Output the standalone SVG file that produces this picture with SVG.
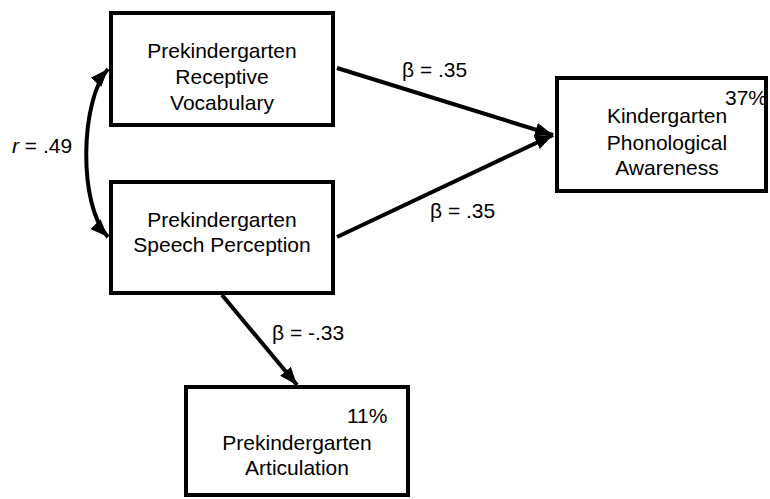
<svg xmlns="http://www.w3.org/2000/svg" width="770" height="499" viewBox="0 0 770 499">
<style>
.box{fill:#fff;stroke:#000;stroke-width:4}
.t{font-family:"Liberation Sans",Arial,sans-serif;font-size:20px;fill:#000}
.w{font-size:21px}
.c{text-anchor:middle}
.ln{fill:none;stroke:#000;stroke-width:4}
</style>
<defs>
<marker id="ah" markerUnits="userSpaceOnUse" markerWidth="20" markerHeight="16" refX="18" refY="8" orient="auto-start-reverse">
<path d="M0,1 L18,8 L0,15 Z" fill="#000"/>
</marker>
</defs>
<rect width="770" height="499" fill="#fff"/>
<g id="connectors">
<path class="ln" d="M337,68 L553,135" marker-end="url(#ah)"/>
<path class="ln" d="M337,237 L553,135" marker-end="url(#ah)"/>
<path class="ln" d="M222,295 L297,385" marker-end="url(#ah)"/>
<path class="ln" d="M108,69 C80,100 78,206 108,237" marker-start="url(#ah)" marker-end="url(#ah)"/>
<text class="t w" x="402" y="77">β = .35</text>
<text class="t w" x="430" y="218">β = .35</text>
<text class="t w" x="272" y="340">β = -.33</text>
<text class="t w" x="12" y="153"><tspan font-style="italic">r</tspan> = .49</text>
</g>
<g id="vocab">
<rect class="box" x="111" y="13" width="222" height="112"/>
<text class="t w c" x="222" y="58">Prekindergarten</text>
<text class="t w c" x="222" y="84">Receptive</text>
<text class="t w c" x="222" y="110">Vocabulary</text>
</g>
<g id="speech">
<rect class="box" x="111" y="182" width="222" height="111"/>
<text class="t w c" x="222" y="227">Prekindergarten</text>
<text class="t w c" x="222" y="252">Speech Perception</text>
</g>
<g id="phono">
<rect class="box" x="557" y="78" width="209" height="113"/>
<text class="t w" x="725" y="105">37%</text>
<text class="t w c" x="667" y="123">Kindergarten</text>
<text class="t w c" x="667" y="150">Phonological</text>
<text class="t w c" x="667" y="175">Awareness</text>
</g>
<g id="artic">
<rect class="box" x="186" y="387" width="222" height="108"/>
<text class="t w" x="347" y="423">11%</text>
<text class="t w c" x="297" y="450">Prekindergarten</text>
<text class="t w c" x="297" y="475">Articulation</text>
</g>
</svg>
